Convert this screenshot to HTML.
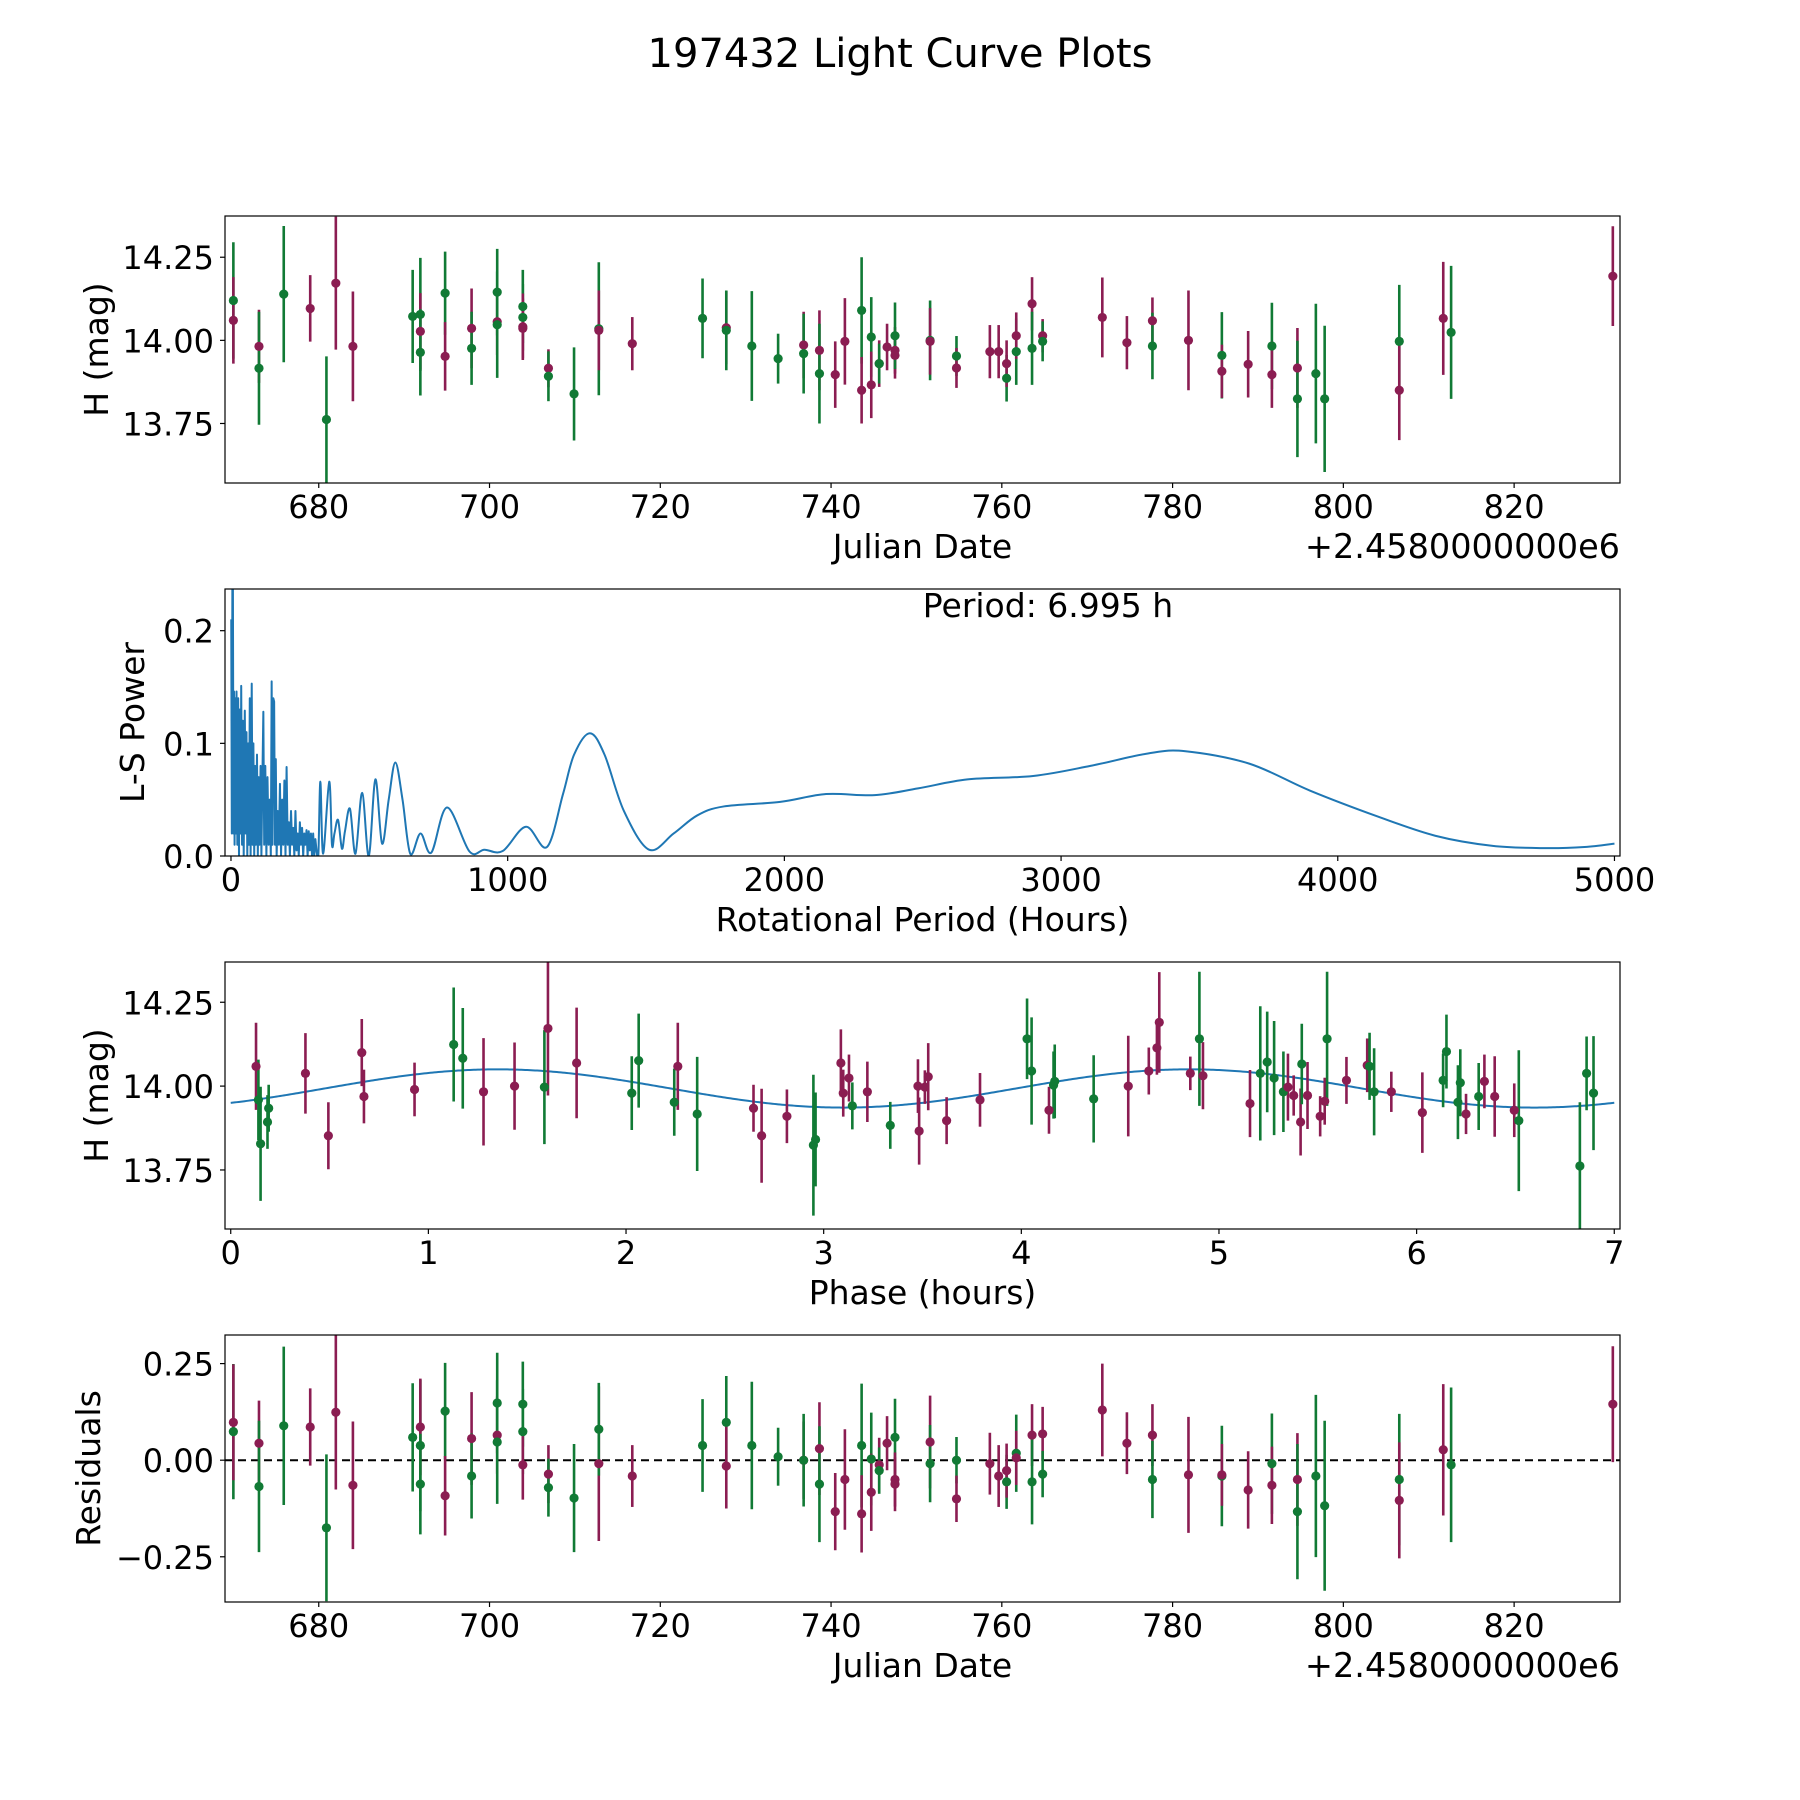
<!DOCTYPE html>
<html><head><meta charset="utf-8">
<style>
html,body{margin:0;padding:0;background:#fff;}
svg{display:block;}
text{font-family:"DejaVu Sans","Liberation Sans",sans-serif;fill:#000;}
</style></head>
<body>
<svg id="fig" width="1800" height="1800" viewBox="0 0 1800 1800" xmlns="http://www.w3.org/2000/svg">
<rect x="0" y="0" width="1800" height="1800" fill="#fff"/>
<text x="900" y="67" font-size="40" text-anchor="middle">197432 Light Curve Plots</text>
</svg>
<script>
// ---------- Panel 1: light curve (date, mag, err, band) ----------
const lcDate=[670.0,670.0,673.0,673.0,675.9,679.0,680.9,682.0,684.0,691.0,691.9,691.9,691.9,694.8,694.8,697.9,697.9,700.9,700.9,700.9,703.9,703.9,703.9,703.9,706.9,706.9,709.9,712.8,712.8,716.72,724.95,727.73,727.73,730.72,733.80,736.79,736.79,738.64,738.64,740.49,741.62,743.58,743.58,744.71,744.71,745.64,745.64,746.56,747.49,747.49,747.49,751.60,751.60,754.69,754.69,758.60,759.63,760.56,760.56,761.69,761.69,763.54,763.54,764.78,764.78,771.77,774.65,777.64,777.64,781.86,785.77,785.77,788.85,791.63,791.63,794.62,794.62,796.78,797.81,806.55,806.55,811.70,812.62,831.56];
const lcMag=[14.120,14.060,13.982,13.916,14.139,14.096,13.762,14.172,13.982,14.072,14.078,14.027,13.964,14.142,13.952,14.036,13.976,14.145,14.056,14.047,14.102,14.069,14.041,14.036,13.916,13.892,13.839,14.035,14.030,13.990,14.066,14.038,14.030,13.983,13.945,13.986,13.960,13.970,13.900,13.897,13.997,14.090,13.850,14.010,13.866,13.930,13.930,13.980,13.970,13.955,14.014,14.000,13.997,13.953,13.917,13.966,13.966,13.886,13.930,13.966,14.014,14.110,13.976,14.014,13.997,14.069,13.993,14.059,13.983,14.000,13.955,13.907,13.928,13.983,13.897,13.917,13.824,13.900,13.824,13.997,13.850,14.066,14.024,14.193];
const lcErr=[0.175,0.13,0.11,0.17,0.205,0.10,0.19,0.20,0.165,0.14,0.17,0.115,0.13,0.125,0.103,0.12,0.11,0.13,0.10,0.16,0.11,0.10,0.10,0.09,0.057,0.075,0.14,0.20,0.12,0.08,0.12,0.11,0.12,0.165,0.075,0.10,0.12,0.12,0.15,0.10,0.13,0.16,0.10,0.12,0.10,0.07,0.06,0.07,0.07,0.07,0.10,0.12,0.10,0.06,0.06,0.08,0.08,0.07,0.07,0.10,0.07,0.08,0.11,0.05,0.06,0.12,0.08,0.07,0.10,0.15,0.13,0.08,0.10,0.13,0.10,0.12,0.175,0.21,0.22,0.17,0.15,0.17,0.20,0.15];
const lcBand=['g','m','m','g','g','m','g','m','m','g','g','m','g','g','m','m','g','g','m','g','g','g','m','m','m','g','g','g','m','m','g','m','g','g','g','m','g','m','g','m','m','g','m','g','m','m','g','m','m','m','g','g','m','g','m','m','m','g','m','g','m','m','g','m','g','m','m','m','g','m','g','m','m','g','m','m','g','g','g','g','m','m','g','m'];

// ---------- Panel 2: Lomb-Scargle periodogram ----------
const lsPeriod=[1,3,5,7,9,11,13,15,17,20,23,26,29,32,35,37,40,43,46,50,53,56,59,62,65,68,71,75,78,81,84,87,90,94,97,100,103,107,110,113,117,120,124,128,132,136,140,144,147,150,153,156,159,162,165,169,173,177,181,185,189,193,197,201,205,209,213,217,221,225,229,233,237,241,245,249,253,257,261,265,269,273,277,281,285,289,293,297,301,305,310,
316,323,333,355,365,374,387,401,412,430,450,474,498,522,546,570,594,620,648,685,724,781,862,916,982,1066,1142,1200,1240,1297,1350,1420,1511,1600,1685,1781,1985,2151,2326,2483,2662,2899,3106,3314,3450,3680,3900,4145,4352,4560,4747,4892,5000];
const lsPower=[0.21,0.02,0.237,0.24,0.02,0.146,0.01,0.14,0.02,0.146,0.01,0.14,0.0,0.13,0.02,0.151,0.01,0.12,0.0,0.129,0.02,0.11,0.0,0.10,0.01,0.14,0.0,0.153,0.01,0.10,0.0,0.08,0.01,0.09,0.0,0.07,0.01,0.08,0.0,0.06,0.128,0.01,0.08,0.0,0.07,0.01,0.05,0.0,0.155,0.01,0.14,0.137,0.01,0.086,0.0,0.04,0.01,0.064,0.0,0.05,0.01,0.067,0.0,0.079,0.01,0.03,0.0,0.04,0.01,0.025,0.0,0.04,0.005,0.02,0.0,0.03,0.01,0.025,0.0,0.02,0.01,0.023,0.0,0.022,0.005,0.02,0.0,0.02,0.0,0.015,0.003,
0.002,0.066,0.002,0.066,0.01,0.02,0.032,0.0065,0.022,0.042,0.002,0.056,0.0,0.068,0.011,0.05,0.083,0.05,0.002,0.02,0.003,0.043,0.004,0.0056,0.0044,0.026,0.008,0.055,0.09,0.109,0.09,0.04,0.0056,0.02,0.036,0.044,0.048,0.055,0.054,0.06,0.068,0.071,0.08,0.091,0.093,0.082,0.058,0.035,0.018,0.009,0.007,0.008,0.011];
const lsSmoothStart=316;
const bestPeriod="6.995";

// ---------- Panel 3: phased light curve ----------
const phPhase=[0.128,0.14,0.151,0.186,0.192,0.378,0.494,0.663,0.674,0.93,1.128,1.174,1.279,1.436,1.587,1.605,1.75,2.029,2.064,2.244,2.262,2.36,2.645,2.686,2.814,2.948,2.959,3.087,3.099,3.128,3.145,3.221,3.337,3.477,3.483,3.512,3.529,3.622,3.791,4.029,4.052,4.14,4.163,4.169,4.366,4.541,4.645,4.686,4.698,4.855,4.901,4.919,5.157,5.209,5.244,5.279,5.326,5.349,5.378,5.413,5.419,5.448,5.512,5.535,5.547,5.645,5.75,5.762,5.785,5.872,6.029,6.134,6.151,6.209,6.221,6.25,6.314,6.343,6.395,6.494,6.517,6.826,6.86,6.895];
const phMag=[14.059,13.959,13.828,13.893,13.934,14.038,13.852,14.1,13.969,13.99,14.124,14.083,13.983,14.0,13.997,14.172,14.069,13.979,14.076,13.952,14.059,13.917,13.934,13.852,13.91,13.824,13.841,14.069,13.979,14.024,13.941,13.983,13.883,14.0,13.866,13.997,14.028,13.897,13.959,14.141,14.045,13.928,14.003,14.014,13.962,14.0,14.045,14.114,14.19,14.038,14.141,14.031,13.948,14.038,14.072,14.024,13.983,13.997,13.972,13.893,14.066,13.972,13.91,13.955,14.141,14.017,14.062,14.059,13.983,13.983,13.921,14.017,14.103,13.952,14.01,13.917,13.969,14.014,13.969,13.928,13.897,13.762,14.038,13.979];
const phErr=[0.13,0.12,0.17,0.08,0.07,0.12,0.1,0.1,0.08,0.08,0.17,0.15,0.16,0.13,0.17,0.2,0.165,0.11,0.14,0.1,0.13,0.17,0.07,0.14,0.08,0.21,0.14,0.1,0.07,0.07,0.07,0.09,0.07,0.08,0.1,0.05,0.1,0.07,0.08,0.12,0.16,0.07,0.1,0.11,0.13,0.15,0.07,0.08,0.15,0.05,0.2,0.1,0.1,0.2,0.15,0.17,0.12,0.1,0.06,0.1,0.12,0.1,0.06,0.07,0.2,0.07,0.08,0.1,0.13,0.06,0.12,0.08,0.11,0.11,0.1,0.06,0.1,0.08,0.12,0.08,0.21,0.19,0.11,0.17];
const phBand=['m','g','g','g','g','m','m','m','m','m','g','g','m','m','g','m','m','g','g','g','m','g','m','m','m','g','g','m','m','m','g','m','g','m','m','m','m','m','m','g','g','m','g','g','g','m','m','m','m','m','g','m','m','g','g','g','g','m','m','m','g','m','m','m','g','m','m','g','g','m','m','g','g','g','g','m','g','m','m','m','g','g','g','g'];
// model fit: mean, amplitude, period (h), phase offset (h)
const fitMean=[13.993];
const fitAmp=[0.057];
const fitPeriod=[3.4975];
const fitOffset=[0.476];

// ---------- Panel 4: residuals ----------
const rsDate=[670.0,670.0,673.0,673.0,675.9,679.0,680.9,682.0,684.0,691.0,691.9,691.9,691.9,694.8,694.8,697.9,697.9,700.9,700.9,700.9,703.9,703.9,703.9,706.9,706.9,709.9,712.8,712.8,716.72,724.95,727.73,727.73,730.72,733.80,736.79,736.79,738.64,738.64,740.49,741.62,743.58,743.58,744.71,744.71,745.64,745.64,746.56,747.49,747.49,747.49,751.60,751.60,754.69,754.69,758.60,759.63,760.56,760.56,761.69,761.69,763.54,763.54,764.78,764.78,771.77,774.65,777.64,777.64,781.86,785.77,785.77,788.85,791.63,791.63,794.62,794.62,796.78,797.81,806.55,806.55,811.70,812.62,831.56];
const rsRes=[0.074,0.098,0.044,-0.068,0.089,0.086,-0.175,0.124,-0.065,0.059,0.038,0.086,-0.062,0.127,-0.092,0.056,-0.041,0.148,0.065,0.047,0.145,0.074,-0.012,-0.036,-0.071,-0.098,-0.009,0.080,-0.041,0.038,0.098,-0.015,0.038,0.009,0.0,0.0,0.030,-0.062,-0.133,-0.050,0.038,-0.139,0.003,-0.083,-0.012,-0.027,0.044,0.059,-0.050,-0.062,0.047,-0.009,0.0,-0.100,-0.009,-0.041,-0.056,-0.027,0.018,0.006,0.065,-0.056,0.068,-0.036,0.130,0.044,0.065,-0.050,-0.038,-0.041,-0.038,-0.077,-0.009,-0.065,-0.050,-0.133,-0.041,-0.118,-0.050,-0.104,0.027,-0.012,0.145];
const rsErr=[0.175,0.15,0.11,0.17,0.205,0.10,0.19,0.20,0.165,0.14,0.17,0.125,0.13,0.125,0.103,0.12,0.11,0.13,0.10,0.16,0.11,0.11,0.09,0.075,0.075,0.14,0.20,0.12,0.08,0.12,0.12,0.11,0.165,0.075,0.10,0.12,0.12,0.15,0.10,0.13,0.16,0.10,0.12,0.10,0.07,0.06,0.07,0.10,0.07,0.07,0.12,0.10,0.06,0.06,0.08,0.08,0.07,0.07,0.10,0.07,0.08,0.11,0.07,0.06,0.12,0.08,0.08,0.10,0.15,0.13,0.08,0.10,0.13,0.10,0.12,0.175,0.21,0.22,0.17,0.15,0.17,0.20,0.15];
const rsBand=['g','m','m','g','g','m','g','m','m','g','g','m','g','g','m','m','g','g','m','g','g','g','m','m','g','g','m','g','m','g','g','m','g','g','m','g','m','g','m','m','g','m','g','m','m','g','m','g','m','m','m','g','g','m','m','m','g','m','g','m','m','g','m','g','m','m','m','g','m','g','m','m','g','m','m','g','g','g','g','m','m','g','m'];

// ---------- Ticks ----------
const jdTicks=[680,700,720,740,760,780,800,820];
const magTicks=[13.75,14.00,14.25];
const magTickLabels=["13.75","14.00","14.25"];
const lsXTicks=[0,1000,2000,3000,4000,5000];
const lsYTicks=[0.0,0.1,0.2];
const lsYTickLabels=["0.0","0.1","0.2"];
const phTicks=[0,1,2,3,4,5,6,7];
const resTicks=[-0.25,0.0,0.25];
const resTickLabels=["\u22120.25","0.00","0.25"];

const COL={m:'#8b1d52',g:'#117a35'};
const NS='http://www.w3.org/2000/svg';
const svg=document.getElementById('fig');
const L=225,W=1395,H=267,TOPS=[216,589,962,1335];
const TFS=32, LFS=33;

function mk(tag,attrs,parent){const e=document.createElementNS(NS,tag);for(const k in attrs)e.setAttribute(k,attrs[k]);(parent||svg).appendChild(e);return e;}
function scale(d0,d1,r0,r1){return v=>r0+(v-d0)/(d1-d0)*(r1-r0);}

function makePanel(i,xd,yd,name){
  const top=TOPS[i];
  const g=mk('g',{});
  
  
  const clipId='clip'+i;
  const cp=mk('clipPath',{id:clipId},g);mk('rect',{x:L,y:top,width:W,height:H},cp);
  const plot=mk('g',{'clip-path':'url(#'+clipId+')'},g);
  
  
  return {g,plot,top,x:scale(xd[0],xd[1],L,L+W),y:scale(yd[0],yd[1],top+H,top)};
}
function frame(p,name){
  const r=mk('rect',{x:L,y:p.top,width:W,height:H,fill:'none',stroke:'#000','stroke-width':1.2},p.g);
  
  
}
function xAxis(p,ticks,labels,label,name,offset){
  const b=p.top+H;
  ticks.forEach((t,k)=>{
    const X=p.x(t);
    mk('line',{x1:X,x2:X,y1:b,y2:b+5,stroke:'#000','stroke-width':1.2},p.g);
    const tx=mk('text',{x:X,y:b+35,'font-size':TFS,'text-anchor':'middle'},p.g);
    tx.textContent=labels[k];
    
    
  });
  const xl=mk('text',{x:L+W/2,y:b+75,'font-size':LFS,'text-anchor':'middle'},p.g);
  xl.textContent=label;
  
  
  if(offset){
    const ot=mk('text',{x:L+W,y:b+75,'font-size':33.5,'text-anchor':'end'},p.g);
    ot.textContent=offset;
    
    
  }
}
function yAxis(p,ticks,labels,label,name,lx){
  ticks.forEach((t,k)=>{
    const Y=p.y(t);
    mk('line',{x1:L-5,x2:L,y1:Y,y2:Y,stroke:'#000','stroke-width':1.2},p.g);
    const tx=mk('text',{x:L-11,y:Y+12,'font-size':TFS,'text-anchor':'end'},p.g);
    tx.textContent=labels[k];
    
    
  });
  const cy=p.top+H/2;
  const yl=mk('text',{x:lx,y:cy,'font-size':LFS,'text-anchor':'middle',transform:'rotate(-90 '+lx+' '+cy+')'},p.g);
  yl.textContent=label;
  
  
}
function errPoints(p,xs,ys,es,bs,name){
  xs.forEach((xv,k)=>{
    const X=p.x(xv),c=COL[bs[k]];
    const ln=mk('line',{x1:X,x2:X,y1:p.y(ys[k]-es[k]),y2:p.y(ys[k]+es[k]),stroke:c,'stroke-width':2.6},p.plot);
    
    
  });
  xs.forEach((xv,k)=>{
    const ci=mk('circle',{cx:p.x(xv),cy:p.y(ys[k]),r:4.6,fill:COL[bs[k]]},p.plot);
    
    
  });
}

// Panel 1
const JD_DOMAIN=[669.02,832.4];
const p1=makePanel(0,JD_DOMAIN,[13.571,14.374],'light-curve-panel');
errPoints(p1,lcDate,lcMag,lcErr,lcBand,'light-curve');
frame(p1,'light-curve');
xAxis(p1,jdTicks,jdTicks.map(String),'Julian Date','light-curve','+2.4580000000e6');
yAxis(p1,magTicks,magTickLabels,'H (mag)','light-curve',108);

// Panel 2
const p2=makePanel(1,[-21.6,5020],[0,0.237],'periodogram-panel');
(function(){
  let d='';
  let k=0;
  for(;k<lsPeriod.length&&lsPeriod[k]<lsSmoothStart;k++){
    d+=(k?'L':'M')+p2.x(lsPeriod[k]).toFixed(2)+' '+p2.y(lsPower[k]).toFixed(2);
  }
  const pts=[];
  for(let j=k-1;j<lsPeriod.length;j++)pts.push([p2.x(lsPeriod[j]),p2.y(lsPower[j])]);
  for(let j=0;j<pts.length-1;j++){
    const a=pts[Math.max(0,j-1)],b=pts[j],c=pts[j+1],e=pts[Math.min(pts.length-1,j+2)];
    const c1=[b[0]+(c[0]-a[0])/6,b[1]+(c[1]-a[1])/6],c2=[c[0]-(e[0]-b[0])/6,c[1]-(e[1]-b[1])/6];
    d+='C'+c1[0].toFixed(2)+' '+c1[1].toFixed(2)+' '+c2[0].toFixed(2)+' '+c2[1].toFixed(2)+' '+c[0].toFixed(2)+' '+c[1].toFixed(2);
  }
  const path=mk('path',{d:d,fill:'none',stroke:'#1f77b4','stroke-width':2,'stroke-linejoin':'round'},p2.plot);
  
  
})();
frame(p2,'periodogram');
xAxis(p2,lsXTicks,lsXTicks.map(String),'Rotational Period (Hours)','periodogram');
yAxis(p2,lsYTicks,lsYTickLabels,'L-S Power','periodogram',144);
const pt=mk('text',{x:1048,y:617,'font-size':LFS,'text-anchor':'middle'},p2.g);
pt.textContent='Period: '+bestPeriod+' h';



// Panel 3
const p3=makePanel(2,[-0.029,7.029],[13.574,14.370],'phase-panel');
(function(){
  let d='';
  for(let s=0;s<=700;s++){
    const t=7*s/700;
    const v=fitMean[0]+fitAmp[0]*Math.sin(2*Math.PI*(t-fitOffset[0])/fitPeriod[0]);
    d+=(s?'L':'M')+p3.x(t).toFixed(2)+' '+p3.y(v).toFixed(2);
  }
  const path=mk('path',{d:d,fill:'none',stroke:'#1f77b4','stroke-width':2},p3.plot);
  
  
})();
errPoints(p3,phPhase,phMag,phErr,phBand,'phase');
frame(p3,'phase');
xAxis(p3,phTicks,phTicks.map(String),'Phase (hours)','phase');
yAxis(p3,magTicks,magTickLabels,'H (mag)','phase',108);

// Panel 4
const p4=makePanel(3,JD_DOMAIN,[-0.367,0.324],'residuals-panel');
(function(){
  const Y=p4.y(0);
  const ln=mk('line',{x1:L,x2:L+W,y1:Y,y2:Y,stroke:'#000','stroke-width':2,'stroke-dasharray':'8 5'},p4.plot);
  
  
})();
errPoints(p4,rsDate,rsRes,rsErr,rsBand,'residual');
frame(p4,'residuals');
xAxis(p4,jdTicks,jdTicks.map(String),'Julian Date','residuals','+2.4580000000e6');
yAxis(p4,resTicks,resTickLabels,'Residuals','residuals',100);
</script>
</body></html>
